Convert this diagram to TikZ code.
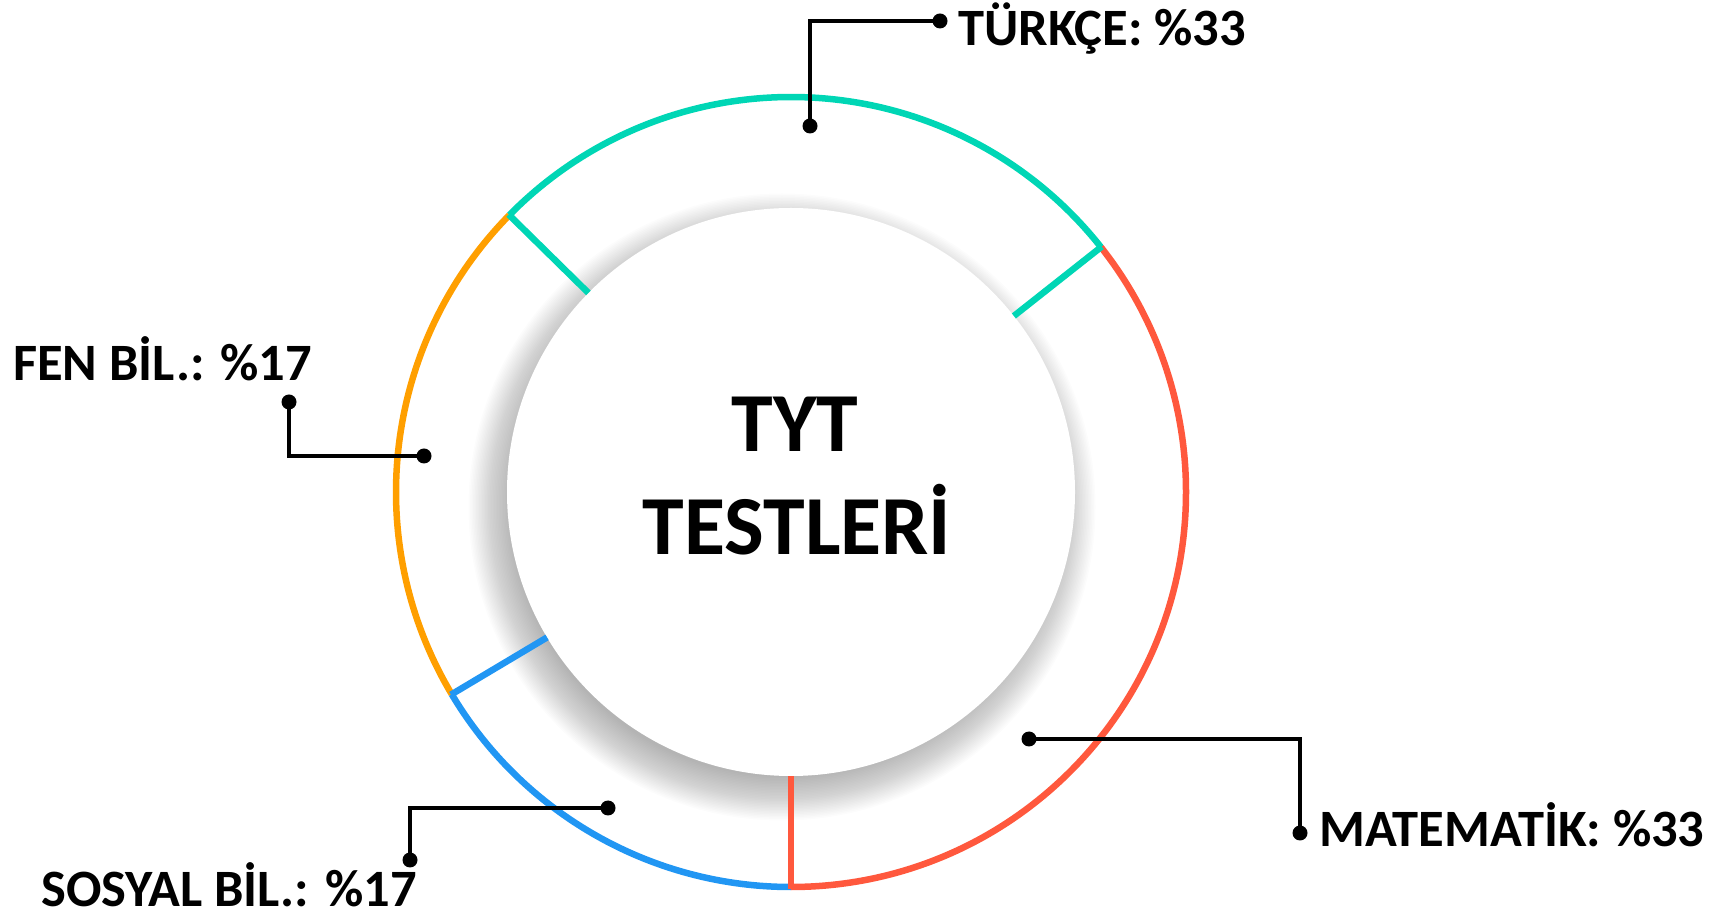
\documentclass[tikz,border=0pt]{standalone}
\usepackage{fontspec}
\setmainfont{Carlito}
\definecolor{cteal}{RGB}{0,214,181}
\definecolor{cred}{RGB}{255,88,61}
\definecolor{corange}{RGB}{255,159,0}
\definecolor{cblue}{RGB}{33,150,243}
\tikzset{
  ring/.style={line width=6.5pt},
  leader/.style={line width=3.2pt, line join=miter},
  dotnode/.style={circle, fill=black, inner sep=0pt, minimum size=15pt},
  lbl/.style={anchor=base west, inner sep=0pt, text depth=0pt, font=\fontsize{52.5}{60}\selectfont\bfseries},
  big/.style={anchor=base, inner sep=0pt, font=\fontsize{84}{90}\selectfont\bfseries}
}
\begin{document}
\begin{tikzpicture}[x=1pt,y=1pt]
\useasboundingbox (0,0) rectangle (1730,916);
\coordinate (c) at (791,424);
% shadow of the inner disc
\foreach \k in {0,...,29}{
  \fill[black, opacity=0.0105] ([shift={(-9,-15)}]c) circle ({270+1.5*\k});
}
\fill[white] (c) circle (284);
% ring arcs
\draw[ring, cteal] ([shift={(38.3:395)}]c) arc[start angle=38.3, end angle=135.5, radius=395];
\draw[ring, corange] ([shift={(135.5:395)}]c) arc[start angle=135.5, end angle=210.8, radius=395];
\draw[ring, cblue] ([shift={(210.8:395)}]c) arc[start angle=210.8, end angle=270, radius=395];
\draw[ring, cred] ([shift={(-90:395)}]c) arc[start angle=-90, end angle=38.3, radius=395];
% separators
\draw[ring, cteal] ([shift={(135.5:396)}]c) -- ([shift={(135.5:284)}]c);
\draw[ring, cteal] ([shift={(38.3:396)}]c) -- ([shift={(38.3:284)}]c);
\draw[ring, cblue] ([shift={(210.8:396)}]c) -- ([shift={(210.8:284)}]c);
\draw[ring, cred] ([shift={(270:397)}]c) -- ([shift={(270:284)}]c);
% centre text
\node[big] (tyt) at (795,464) {TYT};
\node[big] (testleri) at (797,361) {TESTLERİ};
% TURKCE
\node[dotnode] (t1) at (810,790) {};
\coordinate (t2) at (810,895);
\node[dotnode] (t3) at (940,895) {};
\draw[leader] (t1.center) -- (t2) -- (t3.center);
\node[lbl] (tl) at (958,870) {TÜRKÇE: \%33};
% FEN
\node[dotnode] (f1) at (424,460) {};
\coordinate (f2) at (289,460);
\node[dotnode] (f3) at (289,514) {};
\draw[leader] (f1.center) -- (f2) -- (f3.center);
\node[lbl] (fl) at (13,535) {FEN BİL.: \%17};
% MATEMATIK
\node[dotnode] (m1) at (1029,177) {};
\coordinate (m2) at (1300,177);
\node[dotnode] (m3) at (1300,83) {};
\draw[leader] (m1.center) -- (m2) -- (m3.center);
\node[lbl] (ml) at (1319,70) {MATEMATİK: \%33};
% SOSYAL
\node[dotnode] (s1) at (608,108) {};
\coordinate (s2) at (410,108);
\node[dotnode] (s3) at (410,56) {};
\draw[leader] (s1.center) -- (s2) -- (s3.center);
\node[lbl] (sl) at (41,10) {SOSYAL BİL.: \%17};
\end{tikzpicture}
\end{document}
